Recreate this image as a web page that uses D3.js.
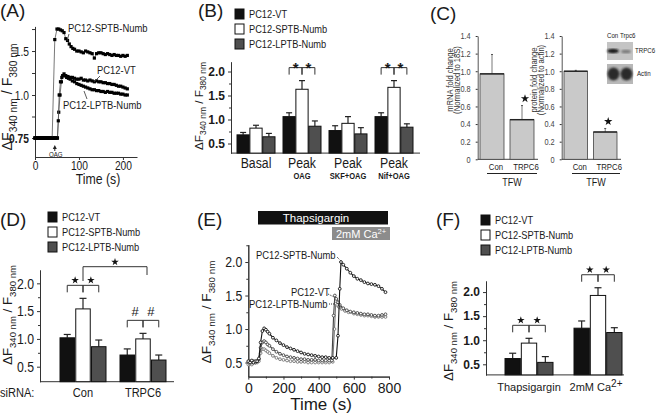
<!DOCTYPE html>
<html><head><meta charset="utf-8">
<script src="https://cdn.jsdelivr.net/npm/d3@7"></script>
<style>body{margin:0;background:#fff}svg{display:block}</style>
</head><body>
<svg id="c" width="656" height="416"></svg>
<script>
// ---------------- DATA ----------------
const seriesNames = ["PC12-VT", "PC12-SPTB-Numb", "PC12-LPTB-Numb"];

// Panel A: time (s) vs ratio
const aVT = [[0,.75],[3,.75],[6,.75],[9,.75],[12,.75],[15,.75],[18,.75],[21,.75],[24,.75],[27,.75],[30,.75],[33,.75],[36,.75],[39,.75],[42,.75],[45,.75],[48,.75],[51,.75],[54,.9],[57,1.0],[60,1.15],[63,1.22],[66,1.24],[70,1.22],[75,1.21],[80,1.2],[85,1.2],[90,1.19],[95,1.18],[100,1.18],[105,1.19],[110,1.17],[115,1.17],[120,1.16],[125,1.17],[130,1.16],[135,1.15],[140,1.16],[145,1.15],[150,1.15],[155,1.14],[160,1.14],[165,1.13],[170,1.13],[175,1.12],[180,1.12],[185,1.11],[190,1.1],[195,1.1],[200,1.09],[205,1.08],[210,1.07]];
const aSPTB = [[0,.75],[3,.75],[6,.75],[9,.75],[12,.75],[15,.75],[18,.75],[21,.75],[24,.75],[27,.75],[30,.75],[33,.75],[36,.75],[39,.75],[45,1.63],[50,1.75],[54,1.75],[58,1.74],[62,1.73],[66,1.71],[70,1.64],[74,1.62],[78,1.58],[82,1.55],[86,1.53],[90,1.52],[95,1.5],[100,1.5],[105,1.49],[110,1.48],[115,1.5],[120,1.49],[125,1.48],[130,1.47],[135,1.42],[140,1.47],[145,1.48],[150,1.48],[155,1.47],[160,1.46],[165,1.47],[170,1.46],[175,1.45],[180,1.46],[185,1.45],[190,1.45],[195,1.44],[200,1.45],[205,1.44],[210,1.45]];
const aLPTB = [[0,.75],[3,.75],[6,.75],[9,.75],[12,.75],[15,.75],[18,.75],[21,.75],[24,.75],[27,.75],[30,.75],[33,.75],[36,.75],[39,.75],[42,.75],[45,.75],[48,.75],[51,.75],[53,.85],[55,1.0],[58,1.15],[61,1.2],[64,1.22],[68,1.22],[72,1.2],[76,1.19],[80,1.18],[85,1.16],[90,1.15],[95,1.13],[100,1.12],[105,1.11],[110,1.1],[115,1.09],[120,1.08],[125,1.07],[130,1.06],[135,1.06],[140,1.05],[145,1.05],[150,1.04],[155,1.04],[160,1.03],[165,1.04],[170,1.03],[175,1.03],[180,1.02],[185,1.02],[190,1.02],[195,1.01],[200,1.01],[205,1.0],[210,1.0]];
const aYTicks = [0.75, 0.875, 1.0, 1.25, 1.5, 1.75];
const aYTickLabels = ["0.75", "", "1.0", "", "1.5", ""];
const aXTicks = [0, 100, 200];
const aOAGTime = 45;

// Panel B
const bCats = ["Basal", "Peak OAG", "Peak SKF+OAG", "Peak Nif+OAG"];
const bMain = ["Basal", "Peak", "Peak", "Peak"];
const bSub = ["", "OAG", "SKF+OAG", "Nif+OAG"];
const bVT = [0.68, 1.06, 0.77, 1.06];
const bVTsem = [0.05, 0.08, 0.10, 0.08];
const bSPTB = [0.82, 1.63, 0.92, 1.67];
const bSPTBsem = [0.06, 0.18, 0.14, 0.14];
const bLPTB = [0.64, 0.86, 0.70, 0.84];
const bLPTBsem = [0.07, 0.11, 0.13, 0.07];
const bSig = ["", "*", "", "*"];
const bYTicks = [0.5, 1.0, 1.5, 2.0];

// Panel C
const cCats = ["Con", "TRPC6"];
const cMRNA = [0.97, 0.45];
const cMRNAsem = [0.22, 0.16];
const cProt = [1.0, 0.31];
const cProtsem = [0.01, 0.04];
const cSig = ["", "*"];
const cYTicks = [0, 0.2, 0.4, 0.6, 0.8, 1.0, 1.2, 1.4];

// Panel D
const dCats = ["Con", "TRPC6"];
const dVT = [1.02, 0.71];
const dVTsem = [0.06, 0.11];
const dSPTB = [1.54, 1.0];
const dSPTBsem = [0.19, 0.10];
const dLPTB = [0.86, 0.62];
const dLPTBsem = [0.12, 0.09];
const dSig = ["*", "#"];
const dYTicks = [0.5, 1.0, 1.5, 2.0];

// Panel E: time (s) vs ratio
const eVT = [[0,.5],[10,.52],[20,.5],[30,.52],[40,.5],[50,.52],[60,.55],[70,.72],[80,.8],[90,.82],[100,.8],[110,.77],[120,.75],[140,.7],[160,.66],[180,.63],[200,.61],[220,.59],[240,.58],[260,.57],[280,.56],[300,.55],[320,.55],[340,.54],[360,.54],[380,.54],[400,.53],[420,.53],[440,.53],[460,.53],[475,.53],[485,1.2],[492,1.5],[500,1.45],[510,1.4],[520,1.36],[540,1.31],[560,1.28],[580,1.26],[600,1.25],[620,1.24],[640,1.23],[660,1.22],[680,1.22],[700,1.21],[720,1.2],[740,1.2],[760,1.21],[780,1.22]];
const eSPTB = [[0,.52],[10,.5],[20,.53],[30,.5],[40,.52],[50,.52],[60,.56],[70,.8],[80,.97],[90,1.01],[100,.99],[110,.96],[120,.93],[140,.87],[160,.83],[180,.79],[200,.76],[220,.73],[240,.71],[260,.69],[280,.67],[300,.65],[320,.63],[340,.62],[360,.61],[380,.6],[400,.59],[420,.58],[440,.58],[460,.57],[480,.57],[500,.57],[510,.9],[520,1.6],[527,2.0],[540,1.96],[560,1.9],[580,1.84],[600,1.79],[620,1.75],[640,1.73],[660,1.7],[680,1.68],[700,1.67],[720,1.66],[740,1.64],[760,1.6],[780,1.55]];
const eLPTB = [[0,.47],[10,.48],[20,.47],[30,.5],[40,.5],[50,.5],[60,.52],[70,.64],[80,.7],[90,.7],[100,.68],[110,.66],[120,.64],[140,.6],[160,.57],[180,.55],[200,.54],[220,.53],[240,.52],[260,.52],[280,.51],[300,.51],[320,.51],[340,.5],[360,.5],[380,.5],[400,.5],[420,.5],[440,.5],[460,.5],[480,.51],[490,1.0],[497,1.38],[505,1.36],[515,1.33],[530,1.3],[550,1.27],[570,1.25],[600,1.23],[620,1.22],[640,1.21],[660,1.2],[680,1.2],[700,1.19],[720,1.18],[740,1.18],[760,1.18],[780,1.18]];
const eYTicks = [0.5, 1.0, 1.5, 2.0];
const eXTicks = [0, 200, 400, 600, 800];

// Panel F
const fCats = ["Thapsigargin", "2mM Ca2+"];
const fVT = [0.62, 1.25];
const fVTsem = [0.11, 0.15];
const fSPTB = [0.94, 1.93];
const fSPTBsem = [0.10, 0.16];
const fLPTB = [0.54, 1.16];
const fLPTBsem = [0.12, 0.10];
const fSig = ["*", "*"];
const fYTicks = [0.5, 1.0, 1.5, 2.0];

// ---------------- STYLE ----------------
const ARIAL = "'Liberation Sans', Arial, Helvetica, sans-serif";
const K = 0.82; // horizontal squeeze emulating a narrow face
const INK = "#1a1a1a";
const barFill = ["#111", "#fff", "#4f4f4f"];

const svg = d3.select("#c");

function narrow(sel, k = K) {
  sel.each(function () {
    const t = d3.select(this);
    const x = +t.attr("x") || 0, y = +t.attr("y") || 0;
    t.attr("x", 0).attr("y", 0).attr("transform", `translate(${x},${y}) scale(${k},1)`);
  });
}
function txt(g, x, y, s, o = {}) {
  const t = g.append("text").attr("x", x).attr("y", y).text(s)
    .attr("font-family", ARIAL).attr("font-size", o.s || 12)
    .attr("font-weight", o.w || "normal").attr("fill", o.c || INK)
    .attr("text-anchor", o.a || "start");
  if (o.n) narrow(t);
  return t;
}
function styleAxis(g, size, weight, color, isNarrow) {
  g.select(".domain").attr("stroke", "#333").attr("stroke-width", 1);
  g.selectAll(".tick line").attr("stroke", "#333");
  const t = g.selectAll("text").attr("font-family", ARIAL).attr("font-size", size)
    .attr("font-weight", weight || "normal").attr("fill", color || INK);
  if (isNarrow) narrow(t);
}
function yLabel(parent, cx, cy, target) {
  function build(L) {
    const S = L * 0.72;
    const t = parent.append("text").attr("transform", `translate(${cx},${cy}) rotate(-90)`)
      .attr("text-anchor", "middle").attr("font-family", ARIAL).attr("fill", INK).attr("y", L * 0.3);
    t.append("tspan").attr("font-size", L).text("\u0394F");
    t.append("tspan").attr("font-size", S).attr("dy", L * 0.3).text("340 nm");
    t.append("tspan").attr("font-size", L).attr("dy", -L * 0.3).text(" / F");
    t.append("tspan").attr("font-size", S).attr("dy", L * 0.3).text("380 nm");
    return t;
  }
  const t0 = build(10); const len = t0.node().getComputedTextLength(); t0.remove();
  build(10 * target / len);
}
function legend(g, x, y0, step) {
  seriesNames.forEach((n, i) => {
    g.append("rect").attr("x", x).attr("y", y0 + i * step - 5).attr("width", 9).attr("height", 10)
      .attr("fill", barFill[i]).attr("stroke", "#111").attr("stroke-width", 1);
    txt(g, x + 14, y0 + i * step + 4, n, { s: 11.3, n: true });
  });
}
function bracket(g, x1, x2, y, drop) {
  g.append("path").attr("d", `M${x1},${y + drop}V${y}H${x2}V${y + drop}`)
    .attr("fill", "none").attr("stroke", "#333").attr("stroke-width", 1);
}
function sigMark(g, cx, cy, mark, size) {
  if (mark === "star") {
    g.append("path").attr("d", d3.symbol(d3.symbolStar, size || 18)()).attr("transform", `translate(${cx},${cy})`).attr("fill", "#111");
  } else if (mark === "*") {
    txt(g, cx, cy + 8.5, "*", { s: 15, w: "bold", a: "middle" });
  } else {
    txt(g, cx, cy + 4.5, mark, { s: 13, a: "middle" });
  }
}
// grouped bar chart with error bars and brackets
function groupedBars(g, cfg) {
  const { cats, vals, sems, x, sub, y, yBase, sig, capW, useStar } = cfg;
  cats.forEach((c, ci) => {
    vals.forEach((arr, si) => {
      const bx = x(c) + sub(si);
      const bw = sub.bandwidth();
      const top = arr[ci] + sems[si][ci];
      g.append("line").attr("x1", bx + bw / 2).attr("x2", bx + bw / 2)
        .attr("y1", y(arr[ci])).attr("y2", y(top)).attr("stroke", "#222").attr("stroke-width", 1.2);
      g.append("line").attr("x1", bx + bw / 2 - capW / 2).attr("x2", bx + bw / 2 + capW / 2)
        .attr("y1", y(top)).attr("y2", y(top)).attr("stroke", "#222").attr("stroke-width", 1.2);
      g.append("rect").attr("x", bx).attr("y", y(arr[ci])).attr("width", bw)
        .attr("height", yBase - y(arr[ci])).attr("fill", barFill[si])
        .attr("stroke", "#111").attr("stroke-width", 1);
    });
    if (sig[ci]) {
      const cxs = [0, 1, 2].map(si => x(c) + sub(si) + sub.bandwidth() / 2);
      const topMax = d3.max(vals.map((arr, si) => arr[ci] + sems[si][ci]));
      const by = y(topMax) - 13;
      bracket(g, cxs[0], cxs[1], by, 7);
      bracket(g, cxs[1], cxs[2], by, 7);
      const mark = sig[ci] === "*" ? (useStar ? "star" : "*") : sig[ci];
      const off = mark === "star" ? 5 : mark === "*" ? 3 : 9;
      sigMark(g, (cxs[0] + cxs[1]) / 2, by - off, mark);
      sigMark(g, (cxs[1] + cxs[2]) / 2, by - off, mark);
    }
  });
}

// ---------------- PANEL A ----------------
{
  const g = svg.append("g");
  txt(g, 0, 17, "(A)", { s: 19 });
  const x = d3.scaleLinear().domain([0, 232]).range([35, 137]);
  const y = d3.scaleLinear().domain([0.65, 0.75, 1.0, 1.78]).range([157, 138, 95, 26.4]);
  const ya = g.append("g").attr("transform", "translate(35,0)")
    .call(d3.axisLeft(y).tickValues(aYTicks).tickFormat((d, i) => aYTickLabels[i]).tickSize(3).tickSizeOuter(0));
  styleAxis(ya, 12.5, null, null, true);
  ya.selectAll(".tick text").filter(d => d === 0.75).attr("font-weight", "bold");
  const xa = g.append("g").attr("transform", "translate(0,157)")
    .call(d3.axisBottom(x).tickValues(aXTicks).tickFormat(d3.format("d")).tickSize(3).tickPadding(1).tickSizeOuter(0));
  styleAxis(xa, 12.5, null, null, true);
  txt(g, 98, 184, "Time (s)", { s: 15, a: "middle", n: true });
  yLabel(g, 8, 97, 107);
  const line = d3.line().x(d => x(d[0])).y(d => y(d[1]));
  [aVT, aLPTB, aSPTB].forEach(s => {
    g.append("path").attr("d", line(s)).attr("fill", "none").attr("stroke", "#555").attr("stroke-width", 0.8);
    g.selectAll(null).data(s).enter().append("rect")
      .attr("x", d => x(d[0]) - 1.6).attr("y", d => y(d[1]) - 1.6).attr("width", 3.2).attr("height", 3.2).attr("fill", "#000");
  });
  // OAG arrow
  const ox = x(aOAGTime);
  g.append("path").attr("d", `M${ox},${145}l-2,4h4z`).attr("fill", "#222");
  g.append("line").attr("x1", ox).attr("x2", ox).attr("y1", 148).attr("y2", 151).attr("stroke", "#222");
  txt(g, ox + 1, 157, "OAG", { s: 7.5, a: "middle", n: true });
  // labels
  txt(g, 68, 32, "PC12-SPTB-Numb", { s: 11.5, n: true });
  g.append("line").attr("x1", 69).attr("y1", 34).attr("x2", 67).attr("y2", 41).attr("stroke", "#333").attr("stroke-width", 0.8);
  txt(g, 97, 74, "PC12-VT", { s: 11.5, n: true });
  g.append("line").attr("x1", 100).attr("y1", 76).attr("x2", 94).attr("y2", 82).attr("stroke", "#333").attr("stroke-width", 0.8);
  txt(g, 63, 109, "PC12-LPTB-Numb", { s: 11.5, n: true });
  g.append("line").attr("x1", 87).attr("y1", 99).attr("x2", 84).attr("y2", 91).attr("stroke", "#333").attr("stroke-width", 0.8);
}

// ---------------- PANEL B ----------------
{
  const g = svg.append("g");
  txt(g, 198, 17, "(B)", { s: 19 });
  legend(g, 235, 14, 15);
  const y = d3.scaleLinear().domain([0.3, 2.2]).range([153.1, 61.9]);
  const x = d3.scaleBand().domain(bCats).range([233, 417]);
  const sub = d3.scaleBand().domain([0, 1, 2]).range([4, 42]).paddingInner(0.05);
  g.append("g").attr("transform", "translate(231,0)")
    .call(d3.axisLeft(y).tickValues([0.75, 1.25, 1.75]).tickFormat("").tickSize(2).tickSizeOuter(0))
    .call(a => styleAxis(a, 12));
  const ya = g.append("g").attr("transform", "translate(231,0)")
    .call(d3.axisLeft(y).tickValues(bYTicks).tickFormat(d3.format(".1f")).tickSize(3).tickSizeOuter(0));
  styleAxis(ya, 12, "bold");
  g.append("line").attr("x1", 231).attr("x2", 420).attr("y1", 153.1).attr("y2", 153.1).attr("stroke", "#333");
  yLabel(g, 199, 106, 88);
  groupedBars(g, { cats: bCats, vals: [bVT, bSPTB, bLPTB], sems: [bVTsem, bSPTBsem, bLPTBsem], x, sub, y, yBase: 153.1, sig: bSig, capW: 6, useStar: false });
  bCats.forEach((c, i) => {
    const cx = x(c) + x.bandwidth() / 2;
    txt(g, cx, 168, bMain[i], { s: 15, a: "middle", n: true });
    if (bSub[i]) txt(g, cx, 178.5, bSub[i], { s: 9.2, w: "bold", a: "middle", n: true });
  });
}

// ---------------- PANEL C ----------------
{
  const g = svg.append("g");
  txt(g, 430, 20, "(C)", { s: 19 });
  const y = d3.scaleLinear().domain([0, 1.4]).range([159.3, 36]);
  function sub(axisX, bandRange, vals, sems, lbl1, lbl2, ulX1, ulX2) {
    const x = d3.scaleBand().domain(cCats).range(bandRange).paddingInner(0.2).paddingOuter(0);
    const ya = g.append("g").attr("transform", `translate(${axisX},0)`)
      .call(d3.axisLeft(y).tickValues(cYTicks).tickFormat(d => d === 0 ? "0" : d3.format(".1f")(d)).tickSize(2).tickPadding(5).tickSizeOuter(0));
    styleAxis(ya, 9, "normal", "#444", true);
    ya.select(".domain").attr("stroke", "#555");
    g.append("line").attr("x1", axisX).attr("x2", bandRange[1] + 4).attr("y1", 159.3).attr("y2", 159.3).attr("stroke", "#444");
    cCats.forEach((c, i) => {
      const bx = x(c), bw = x.bandwidth(), cx = bx + bw / 2;
      const top = vals[i] + sems[i];
      g.append("line").attr("x1", cx).attr("x2", cx).attr("y1", y(vals[i])).attr("y2", y(top)).attr("stroke", "#555").attr("stroke-width", 0.8);
      g.append("line").attr("x1", cx - 1).attr("x2", cx + 1).attr("y1", y(top)).attr("y2", y(top)).attr("stroke", "#555");
      g.append("rect").attr("x", bx).attr("y", y(vals[i])).attr("width", bw).attr("height", 159.3 - y(vals[i]))
        .attr("fill", "#c9c9c9").attr("stroke", "#444").attr("stroke-width", 0.8);
      g.append("line").attr("x1", bx).attr("x2", bx + bw).attr("y1", y(vals[i])).attr("y2", y(vals[i])).attr("stroke", "#222").attr("stroke-width", 1.4);
      if (cSig[i]) sigMark(g, cx + 3, y(top) - 7, "star", 22);
      txt(g, cx + 4, 170, c, { s: 9.5, a: "middle", n: true });
    });
    g.append("line").attr("x1", ulX1).attr("x2", ulX2).attr("y1", 173.5).attr("y2", 173.5).attr("stroke", "#222").attr("stroke-width", 1);
    txt(g, (ulX1 + ulX2) / 2, 186, "TFW", { s: 11, a: "middle", n: true });
    const cy = 80;
    [[lbl1, -25], [lbl2, -18]].forEach(([s, dx]) => {
      g.append("text").attr("transform", `translate(${axisX + dx},${cy}) rotate(-90) scale(${K},1)`).attr("text-anchor", "middle")
        .attr("font-family", ARIAL).attr("font-size", 9.3).attr("fill", "#333").text(s);
    });
  }
  sub(477.7, [480, 534], cMRNA, cMRNAsem, "mRNA fold change", "(Normalized to 18S)", 487, 537);
  sub(561.7, [564, 617], cProt, cProtsem, "protein fold change", "(Normalized to actin)", 572, 620);
  // western blot inset
  const defs = svg.append("defs");
  defs.append("filter").attr("id", "blur").append("feGaussianBlur").attr("stdDeviation", 1.3);
  txt(g, 607, 38, "Con", { s: 7.5, n: true });
  txt(g, 620, 38, "Trpc6", { s: 7.5, n: true });
  g.append("rect").attr("x", 607).attr("y", 42).attr("width", 26).attr("height", 18).attr("fill", "#c4c4c4");
  g.append("ellipse").attr("cx", 613).attr("cy", 51).attr("rx", 6).attr("ry", 2.2).attr("fill", "#151515").attr("filter", "url(#blur)");
  g.append("ellipse").attr("cx", 626).attr("cy", 51.5).attr("rx", 5).attr("ry", 1.8).attr("fill", "#777").attr("filter", "url(#blur)");
  g.append("rect").attr("x", 607).attr("y", 64).attr("width", 26).attr("height", 20).attr("fill", "#b8b8b8");
  g.append("ellipse").attr("cx", 613.5).attr("cy", 74).attr("rx", 6).attr("ry", 6.5).attr("fill", "#2a2a2a").attr("filter", "url(#blur)");
  g.append("ellipse").attr("cx", 626.5).attr("cy", 74).attr("rx", 6).attr("ry", 6.5).attr("fill", "#2a2a2a").attr("filter", "url(#blur)");
  txt(g, 635, 53, "TRPC6", { s: 7.5, n: true });
  txt(g, 637, 76, "Actin", { s: 7.5, n: true });
}

// ---------------- PANEL D ----------------
{
  const g = svg.append("g");
  txt(g, 0, 226, "(D)", { s: 19 });
  legend(g, 48, 217, 15);
  const y = d3.scaleLinear().domain([0.23, 2.24]).range([381.7, 270]);
  const x = d3.scaleBand().domain(dCats).range([53, 173]);
  const sub = d3.scaleBand().domain([0, 1, 2]).range([7, 53]).paddingInner(0.08);
  g.append("g").attr("transform", "translate(40,0)")
    .call(d3.axisLeft(y).tickValues([0.75, 1.25, 1.75]).tickFormat("").tickSize(2).tickSizeOuter(0))
    .call(a => styleAxis(a, 12));
  const ya = g.append("g").attr("transform", "translate(40,0)")
    .call(d3.axisLeft(y).tickValues(dYTicks).tickFormat(d3.format(".1f")).tickSize(3).tickSizeOuter(0));
  styleAxis(ya, 15, null, null, true);
  g.append("line").attr("x1", 40).attr("x2", 174).attr("y1", 381.7).attr("y2", 381.7).attr("stroke", "#333");
  yLabel(g, 8, 315, 100);
  groupedBars(g, { cats: dCats, vals: [dVT, dSPTB, dLPTB], sems: [dVTsem, dSPTBsem, dLPTBsem], x, sub, y, yBase: 381.7, sig: dSig, capW: 7, useStar: true });
  // big bracket Con (SPTB) vs TRPC6 (SPTB)
  const c1 = x("Con") + sub(1) + sub.bandwidth() / 2;
  const c2 = x("TRPC6") + sub(1) + sub.bandwidth() / 2 + 4;
  g.append("path").attr("d", `M${c1},281V266.7H${c2}V275`).attr("fill", "none").attr("stroke", "#333");
  sigMark(g, (c1 + c2) / 2, 262, "star");
  txt(g, 0, 397, "siRNA:", { s: 13.5, n: true });
  dCats.forEach(c => txt(g, x(c) + x.bandwidth() / 2, 397, c, { s: 13.5, a: "middle", n: true }));
}

// ---------------- PANEL E ----------------
{
  const g = svg.append("g");
  txt(g, 197, 226, "(E)", { s: 19 });
  g.append("rect").attr("x", 258).attr("y", 211).attr("width", 130).attr("height", 13.5).attr("fill", "#111");
  txt(g, 316, 221.5, "Thapsigargin", { s: 11.5, c: "#fff", a: "middle" });
  g.append("rect").attr("x", 332).attr("y", 227).attr("width", 58).attr("height", 13).attr("fill", "#8c8c8c");
  const t2 = txt(g, 361, 237.5, "2mM Ca", { s: 11, c: "#fff", a: "middle" });
  t2.append("tspan").attr("dy", -4).attr("font-size", 7.5).text("2+");
  const x = d3.scaleLinear().domain([0, 800]).range([248.3, 389]);
  const y = d3.scaleLinear().domain([0.29, 2.26]).range([376.6, 244.6]);
  g.append("g").attr("transform", "translate(248.3,0)")
    .call(d3.axisLeft(y).tickValues([0.75, 1.25, 1.75, 2.25]).tickFormat("").tickSize(2).tickSizeOuter(0))
    .call(a => styleAxis(a, 12));
  const ya = g.append("g").attr("transform", "translate(248.3,0)")
    .call(d3.axisLeft(y).tickValues(eYTicks).tickFormat(d3.format(".1f")).tickSize(3).tickSizeOuter(0));
  styleAxis(ya, 15, null, null, true);
  g.append("g").attr("transform", "translate(0,376.6)")
    .call(d3.axisBottom(x).tickValues([100, 300, 500, 700]).tickFormat("").tickSize(2).tickSizeOuter(0))
    .call(a => styleAxis(a, 12));
  const xa = g.append("g").attr("transform", "translate(0,376.6)")
    .call(d3.axisBottom(x).tickValues(eXTicks).tickFormat(d3.format("d")).tickSize(3).tickSizeOuter(0));
  styleAxis(xa, 14);
  txt(g, 321, 410, "Time (s)", { s: 17, a: "middle" });
  yLabel(g, 207, 312, 103);
  const line = d3.line().x(d => x(d[0])).y(d => y(d[1]));
  [[eLPTB, "#777"], [eVT, "#444"], [eSPTB, "#111"]].forEach(([s, col]) => {
    g.append("path").attr("d", line(s)).attr("fill", "none").attr("stroke", col).attr("stroke-width", 1.1);
    g.selectAll(null).data(s).enter().append("circle")
      .attr("cx", d => x(d[0])).attr("cy", d => y(d[1])).attr("r", 1.4)
      .attr("fill", "#fff").attr("stroke", col).attr("stroke-width", 0.9);
  });
  txt(g, 256, 259, "PC12-SPTB-Numb", { s: 11.5, n: true });
  g.append("line").attr("x1", 337).attr("y1", 257).attr("x2", 341).attr("y2", 261).attr("stroke", "#333").attr("stroke-dasharray", "1,1");
  txt(g, 291, 296, "PC12-VT", { s: 11.5, n: true });
  g.append("line").attr("x1", 328).attr("y1", 294).attr("x2", 334).attr("y2", 297).attr("stroke", "#333").attr("stroke-dasharray", "1,1");
  txt(g, 249, 308, "PC12-LPTB-Numb", { s: 11.5, n: true });
  g.append("line").attr("x1", 329).attr("y1", 304).attr("x2", 334).attr("y2", 304).attr("stroke", "#333").attr("stroke-dasharray", "1,1");
}

// ---------------- PANEL F ----------------
{
  const g = svg.append("g");
  txt(g, 436, 226, "(F)", { s: 19 });
  legend(g, 481, 220, 15);
  const y = d3.scaleLinear().domain([0.28, 2.23]).range([374.9, 281]);
  const x = d3.scaleBand().domain(fCats).range([494.5, 632.5]);
  const sub = d3.scaleBand().domain([0, 1, 2]).range([10.5, 58.5]).paddingInner(0.06);
  g.append("g").attr("transform", "translate(486,0)")
    .call(d3.axisLeft(y).tickValues([0.75, 1.25, 1.75]).tickFormat("").tickSize(2).tickSizeOuter(0))
    .call(a => styleAxis(a, 12));
  const ya = g.append("g").attr("transform", "translate(486,0)")
    .call(d3.axisLeft(y).tickValues(fYTicks).tickFormat(d3.format(".1f")).tickSize(3).tickSizeOuter(0));
  styleAxis(ya, 12, "bold");
  g.append("line").attr("x1", 486).attr("x2", 624).attr("y1", 374.9).attr("y2", 374.9).attr("stroke", "#333");
  yLabel(g, 449, 331, 100);
  groupedBars(g, { cats: fCats, vals: [fVT, fSPTB, fLPTB], sems: [fVTsem, fSPTBsem, fLPTBsem], x, sub, y, yBase: 374.9, sig: fSig, capW: 7, useStar: true });
  txt(g, x(fCats[0]) + x.bandwidth() / 2, 391, "Thapsigargin", { s: 11, a: "middle" });
  const t = txt(g, x(fCats[1]) + x.bandwidth() / 2 - 2, 391, "2mM Ca", { s: 11, a: "middle" });
  t.append("tspan").attr("dy", -4).attr("font-size", 10).text("2+");
}
</script>
</body></html>
